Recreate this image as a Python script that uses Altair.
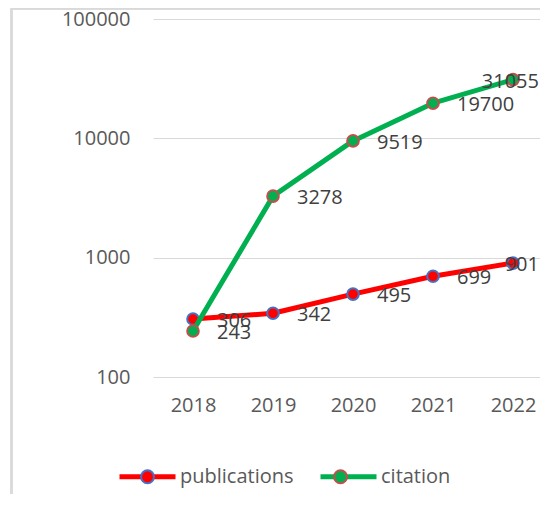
import altair as alt
import pandas as pd

years = [2018, 2019, 2020, 2021, 2022]
publications = [306, 342, 495, 699, 901]
citation = [243, 3278, 9519, 19700, 31055]
series_names = ["publications", "citation"]
line_colors = ["#FF0000", "#00B050"]
marker_strokes = ["#4472C4", "#C0504D"]

rows = []
for name, vals in zip(series_names, [publications, citation]):
    for yr, v in zip(years, vals):
        rows.append({"year": yr, "value": v, "series": name, "series_m": name})
df = pd.DataFrame(rows)

W, H = 387, 358
FONT = "Open Sans"
LX, LY = -36, 427

x_enc = alt.X(
    "year:Q",
    scale=alt.Scale(domain=[2017.5, 2017.5 + W / 80], nice=False, zero=False),
    axis=alt.Axis(title=None, values=years, format="d", labelAngle=0, domain=False,
                  ticks=False, grid=False, labelFlush=False, labelOverlap=False,
                  labelFontSize=20, labelFont=FONT, labelColor="#595959", labelPadding=18),
)
y_enc = alt.Y(
    "value:Q",
    scale=alt.Scale(type="log", domain=[100, 100000]),
    axis=alt.Axis(title=None, values=[100, 1000, 10000, 100000], format="d",
                  domain=False, ticks=False, gridColor="#D9D9D9", gridWidth=1.2,
                  labelFontSize=20, labelFont=FONT, labelColor="#595959", labelPadding=23),
)

color_enc = alt.Color(
    "series:N",
    sort=series_names,
    scale=alt.Scale(range=line_colors),
    legend=alt.Legend(title=None, orient="none", legendX=LX, legendY=LY, direction="horizontal",
                      symbolType="stroke", symbolSize=3136, symbolStrokeWidth=5,
                      labelFontSize=20, labelFont=FONT, labelColor="#595959",
                      labelOffset=2, columnPadding=16),
)
circle_path = "M -0.23 0 A 0.23 0.23 0 1 0 0.23 0 A 0.23 0.23 0 1 0 -0.23 0 Z"
marker_legend = alt.Legend(title=None, orient="none", legendX=LX + 1.5, legendY=LY + 1.5,
                           direction="horizontal", symbolType=circle_path, symbolSize=3136,
                           symbolStrokeWidth=2, labelFontSize=20, labelFont=FONT,
                           labelOpacity=0, labelOffset=2, columnPadding=19)
fill_enc = alt.Fill(
    "series_m:N",
    scale=alt.Scale(domain=series_names, range=line_colors),
    legend=marker_legend,
)
stroke_enc = alt.Stroke(
    "series_m:N",
    scale=alt.Scale(domain=series_names, range=marker_strokes),
    legend=marker_legend,
)

base = alt.Chart(df)
layers = []
for name in series_names:
    sub = base.transform_filter(alt.datum.series == name)
    layers.append(sub.mark_line(strokeWidth=5, strokeCap="round", strokeJoin="round")
                  .encode(x=x_enc, y=y_enc, color=color_enc))
    layers.append(sub.mark_point(shape="circle", filled=True, size=135, strokeWidth=2, opacity=1)
                  .encode(x=x_enc, y=y_enc, fill=fill_enc, stroke=stroke_enc))

text_main = base.transform_filter(alt.datum.year != 2022).mark_text(
    align="left", baseline="middle", dx=24, dy=2, fontSize=20, font=FONT, color="#404040"
).encode(x=x_enc, y=y_enc, text=alt.Text("value:Q", format="d"))
text_last = base.transform_filter(alt.datum.year == 2022).mark_text(
    align="right", baseline="middle", dx=26, dy=2, fontSize=20, font=FONT, color="#404040"
).encode(x=x_enc, y=y_enc, text=alt.Text("value:Q", format="d"))

border_left = base.mark_rule(color="#D9D9D9", strokeWidth=1.5).encode(
    x=alt.value(-141.5), y=alt.value(-10.5), y2=alt.value(H + 140)
)
border_top = base.mark_rule(color="#D9D9D9", strokeWidth=1.5).encode(
    x=alt.value(-141.5), x2=alt.value(W), y=alt.value(-10.5)
)

chart = alt.layer(border_left, border_top, *layers, text_main, text_last).properties(
    width=W, height=H,
    autosize=alt.AutoSizeParams(type="none"),
    padding={"left": 145, "top": 11, "right": 0, "bottom": 117},
).configure_view(stroke=None).configure_text(font=FONT)

chart.save("out.html", embed_options={"renderer": "svg", "actions": False})
